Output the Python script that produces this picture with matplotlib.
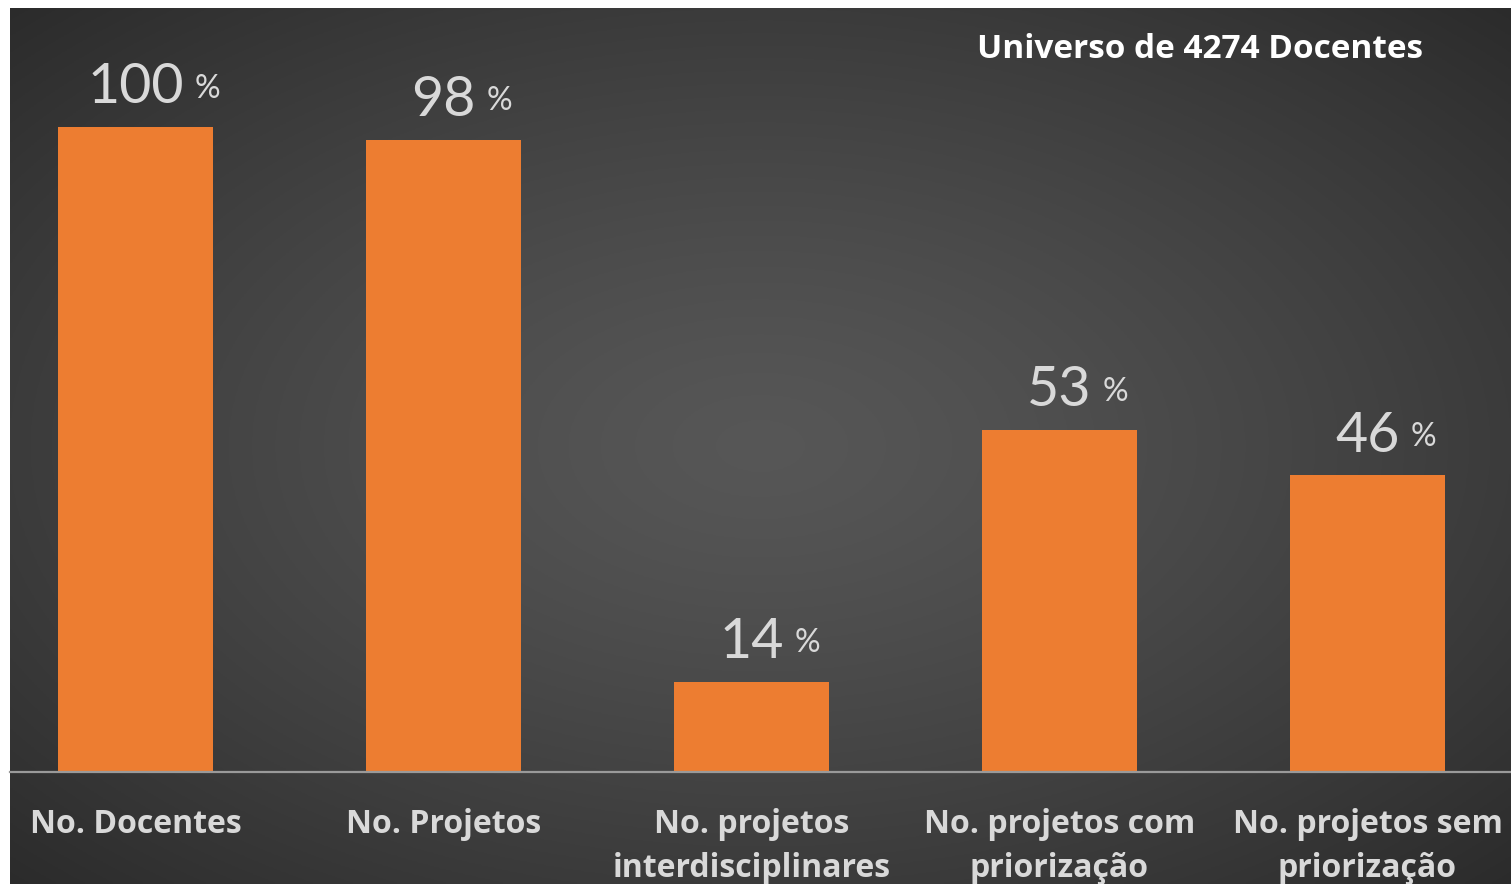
import matplotlib.pyplot as plt
import numpy as np

categories = ['No. Docentes', 'No. Projetos', 'No. projetos\ninterdisciplinares',
              'No. projetos com\npriorização', 'No. projetos sem\npriorização']
values = [100, 98, 14, 53, 46]
title = 'Universo de 4274 Docentes'

W, H = 1511, 884
fig = plt.figure(figsize=(W / 100, H / 100), dpi=100, facecolor='white')

# dark radial gradient backdrop
bg = fig.add_axes([10 / W, 0, 1 - 10 / W, 1 - 8 / H])
yy, xx = np.mgrid[-1:1:300j, -1:1:500j]
r = np.sqrt(xx ** 2 + yy ** 2) / np.sqrt(2)
shade = 0.34 - 0.17 * r ** 1.3
bg.imshow(np.dstack([shade] * 3), aspect='auto', extent=[0, 1, 0, 1])
bg.set_axis_off()

base = (H - 772) / H
ax = fig.add_axes([10 / W, base, 1 - 10 / W, (772 - 8) / H])
ax.patch.set_alpha(0)
x = np.arange(len(values))
bars = ax.bar(x, values, width=0.503, color='#ED7D31', zorder=2)
ax.set_xlim(-0.4075, 4.466)
ax.set_ylim(0, 118.4)

fig.canvas.draw()
renderer = fig.canvas.get_renderer()
for xi, v in zip(x, values):
    t = ax.annotate(str(v), (xi, v), xytext=(0, 17), textcoords='offset points',
                    ha='center', va='baseline', fontsize=40, color='#d9d9d9',
                    family='Lato')
    half = t.get_window_extent(renderer).width / 2 * 72 / 100
    ax.annotate('%', (xi, v), xytext=(half + 8, 21), textcoords='offset points',
                ha='left', va='baseline', fontsize=23, color='#d9d9d9',
                family='Lato')

for s in ['top', 'right', 'left']:
    ax.spines[s].set_visible(False)
ax.spines['bottom'].set_color('#9a9a9a')
ax.spines['bottom'].set_linewidth(1.6)
ax.set_yticks([])
ax.set_xticks(x)
ax.set_xticklabels(categories, fontsize=23, fontweight='bold', color='#d9d9d9',
                   family='Open Sans', linespacing=1.45)
ax.tick_params(axis='x', length=0, pad=26)

fig.text(1200 / W, 1 - 49 / H, title, ha='center', va='center', fontsize=24,
         fontweight='bold', color='white', family='Open Sans')

fig.savefig('out.png', dpi=100)
